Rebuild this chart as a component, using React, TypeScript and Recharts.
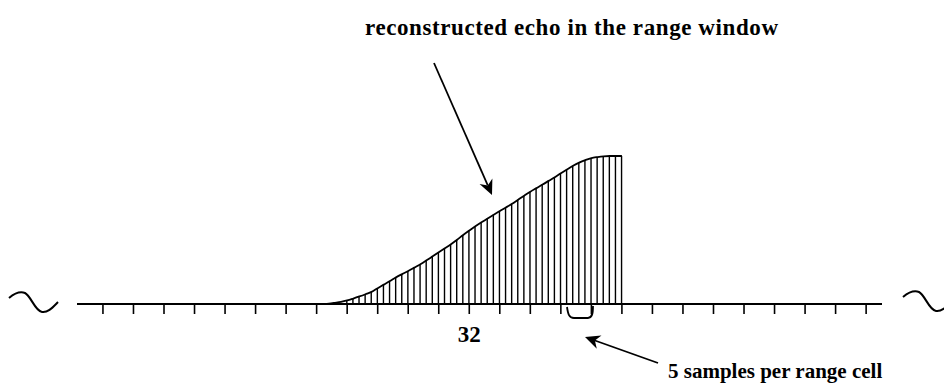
import React from 'react';
import { ComposedChart, Line, Bar, XAxis, YAxis } from 'recharts';

// range cell positions along the axis (one tick each)
const rangeCells = [20, 21, 22, 23, 24, 25, 26, 27, 28, 29, 30, 31, 32, 33, 34, 35, 36, 37, 38, 39, 40, 41, 42, 43, 44, 45];
const labeledCells = [32];

// echo positions, 5 samples per range cell
const echoCells = [
  27.0, 27.2, 27.4, 27.6, 27.8,
  28.0, 28.2, 28.4, 28.6, 28.8,
  29.0, 29.2, 29.4, 29.6, 29.8,
  30.0, 30.2, 30.4, 30.6, 30.8,
  31.0, 31.2, 31.4, 31.6, 31.8,
  32.0, 32.2, 32.4, 32.6, 32.8,
  33.0, 33.2, 33.4, 33.6, 33.8,
  34.0, 34.2, 34.4, 34.6, 34.8,
  35.0, 35.2, 35.4, 35.6, 35.8,
  36.0, 36.2, 36.4, 36.6, 36.8,
  37.0,
];
const echoAmplitude = [
  0, 0.001, 0.003, 0.008, 0.014,
  0.024, 0.037, 0.051, 0.066, 0.082,
  0.107, 0.131, 0.155, 0.18, 0.202,
  0.223, 0.246, 0.269, 0.295, 0.322,
  0.349, 0.376, 0.403, 0.434, 0.466,
  0.496, 0.525, 0.552, 0.578, 0.603,
  0.628, 0.652, 0.677, 0.705, 0.732,
  0.759, 0.783, 0.807, 0.832, 0.857,
  0.884, 0.909, 0.934, 0.955, 0.972,
  0.986, 0.993, 0.998, 1.0, 1.0,
  1.0,
];
// first cell inside the range window where samples are drawn
const windowStart = 28;

const data = echoCells.map((cell, i) => ({
  cell,
  amp: echoAmplitude[i],
  sample: cell >= windowStart ? echoAmplitude[i] : null,
}));

const W = 944;
const H = 385;
const serif = '"Liberation Serif", "Times New Roman", serif';

const CellTick = ({ x, y, payload }: any) => {
  if (!labeledCells.includes(payload.value)) return null;
  return (
    <text x={x} y={y + 24} textAnchor="middle" fontFamily={serif} fontSize={23} fontWeight="bold" fill="#000">
      {payload.value}
    </text>
  );
};

// arrow with a filled, slightly notched head
const Arrow = ({ x1, y1, x2, y2 }: { x1: number; y1: number; x2: number; y2: number }) => {
  const len = Math.hypot(x2 - x1, y2 - y1);
  const ux = (x2 - x1) / len;
  const uy = (y2 - y1) / len;
  const hl = 15;
  const hw = 7;
  const bx = x2 - ux * hl;
  const by = y2 - uy * hl;
  const nx = x2 - ux * hl * 0.7;
  const ny = y2 - uy * hl * 0.7;
  const pts = [
    [x2, y2],
    [bx - uy * hw, by + ux * hw],
    [nx, ny],
    [bx + uy * hw, by - ux * hw],
  ]
    .map((p) => p.join(','))
    .join(' ');
  return (
    <g>
      <line x1={x1} y1={y1} x2={nx} y2={ny} stroke="#000" strokeWidth={1.8} />
      <polygon points={pts} fill="#000" />
    </g>
  );
};

const tilde = 'M0,6 C6,1 11,-1 16,1 C22,4 26,19 33,20 C39,21 44,15 49,10';

export default function App() {
  return (
    <div style={{ position: 'absolute', left: 0, top: 0, width: W, height: H, background: '#fff' }}>
      <ComposedChart
        width={W}
        height={H}
        data={data}
        margin={{ top: 156, right: 62, bottom: 51, left: 77 }}
      >
        <XAxis
          type="number"
          dataKey="cell"
          domain={[19.15, 45.52]}
          ticks={rangeCells}
          allowDataOverflow
          height={30}
          stroke="#000"
          axisLine={{ stroke: '#000', strokeWidth: 2 }}
          tickLine={{ stroke: '#000', strokeWidth: 1.6 }}
          tickSize={10}
          tickMargin={4}
          tick={<CellTick />}
          interval={0}
        />
        <YAxis hide domain={[0, 1]} width={0} />
        <Bar dataKey="sample" barSize={1.4} fill="#000" isAnimationActive={false} />
        <Line
          type="monotone"
          dataKey="amp"
          stroke="#000"
          strokeWidth={1.8}
          dot={false}
          isAnimationActive={false}
        />
      </ComposedChart>
      <svg
        width={W}
        height={H}
        style={{ position: 'absolute', left: 0, top: 0, pointerEvents: 'none' }}
      >
        <text x={365} y={35} fontFamily={serif} fontSize={23} fontWeight="bold" textLength={413} fill="#000">
          reconstructed echo in the range window
        </text>
        <Arrow x1={434} y1={63} x2={492} y2={195} />
        <text x={668} y={378} fontFamily={serif} fontSize={21} fontWeight="bold" fill="#000">
          5 samples per range cell
        </text>
        <Arrow x1={658} y1={363} x2={585} y2={337} />
        <path d="M567,307 C568,314 569,318 574,318 L588,318 C592,318 593,314 593,306" fill="none" stroke="#000" strokeWidth={1.8} />
        <path d={tilde} transform="translate(9,292)" fill="none" stroke="#000" strokeWidth={2} />
        <path d={tilde} transform="translate(903,291)" fill="none" stroke="#000" strokeWidth={2} />
      </svg>
    </div>
  );
}
